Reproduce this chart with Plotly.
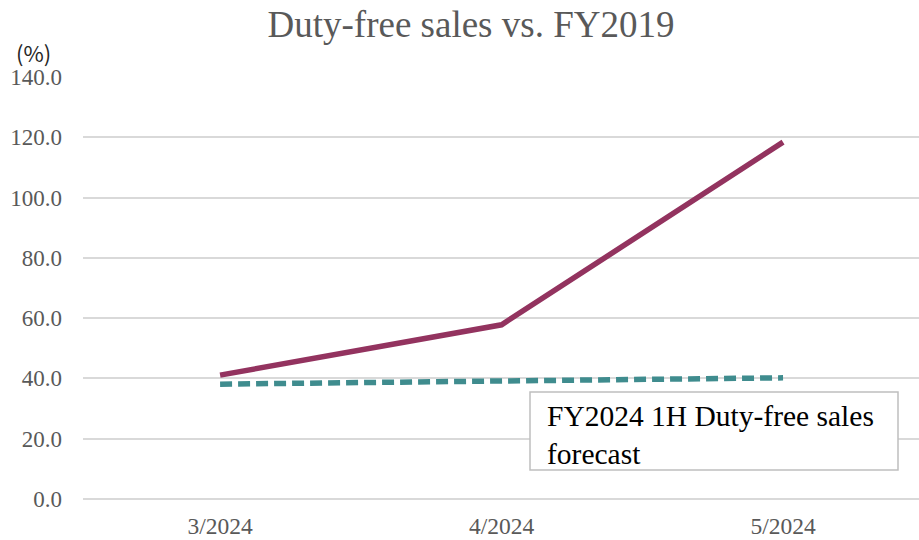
import plotly.graph_objects as go

categories = ["3/2024", "4/2024", "5/2024"]
actual = [41.1, 57.8, 118.4]
forecast = [38.1, 39.1, 40.2]
y_ticks = [0, 20, 40, 60, 80, 100, 120, 140]
y_tick_labels = ["0.0", "20.0", "40.0", "60.0", "80.0", "100.0", "120.0", "140.0"]

SERIF = "Liberation Serif"

W, H = 919, 540
L, T, B = 83, 77, 540 - 499
PW, PH = W - L, H - T - B

fig = go.Figure()
fig.add_trace(go.Scatter(
    x=categories, y=actual, mode="lines",
    line=dict(color="#93335F", width=5.5), name="Actual", showlegend=False,
))
fig.add_trace(go.Scatter(
    x=categories, y=forecast, mode="lines",
    line=dict(color="#3F8C8E", width=5.5, dash="12px,6px"),
    name="FY2024 1H Duty-free sales forecast", showlegend=False,
))

fig.update_layout(
    width=W, height=H,
    margin=dict(l=L, r=0, t=T, b=B, autoexpand=False),
    paper_bgcolor="white", plot_bgcolor="white",
    title=dict(text="Duty-free sales vs. FY2019", x=471 / W, xref="container",
               xanchor="center", y=1 - 24 / H, yref="container", yanchor="middle",
               font=dict(family=SERIF, size=37, color="#595959")),
    xaxis=dict(type="category", range=[-0.487, 2.483], showgrid=False,
               showline=False, zeroline=False, ticks="",
               tickfont=dict(family=SERIF, size=23.5, color="#595959"),
               ticklabelstandoff=10),
    yaxis=dict(range=[0, 140], tickvals=y_ticks, ticktext=y_tick_labels,
               showgrid=True, gridcolor="#D9D9D9", gridwidth=1.5,
               zeroline=True, zerolinecolor="#D9D9D9", zerolinewidth=1.5,
               showline=False, ticks="",
               tickfont=dict(family=SERIF, size=23, color="#595959"),
               ticklabelstandoff=20),
    showlegend=False,
)

fig.add_annotation(
    text="(%)", xref="paper", yref="paper", x=0, y=1,
    xanchor="right", yanchor="middle", xshift=-30, yshift=25, showarrow=False,
    font=dict(family="Noto Sans CJK JP", size=22, color="#262626"),
)

# forecast label box
bx0, bx1, by0, by1 = 530 - 83, 898 - 83, 499 - 470, 499 - 392
fig.add_shape(type="rect", xref="paper", yref="paper",
              x0=bx0 / PW, x1=bx1 / PW, y0=by0 / PH, y1=by1 / PH,
              line=dict(color="#BFBFBF", width=1.5), fillcolor="white", layer="above")
fig.add_annotation(
    text="FY2024 1H Duty-free sales<br>forecast", xref="paper", yref="paper",
    x=(545 - 83) / PW, y=(499 - 435) / PH, xanchor="left", yanchor="middle",
    showarrow=False, align="left",
    font=dict(family=SERIF, size=29.5, color="#000000"),
)

# remove the default 8px page margin so the figure fills the window exactly
fig.write_html("out.html", config={"displayModeBar": False},
               post_script="document.body.style.margin='0';")
